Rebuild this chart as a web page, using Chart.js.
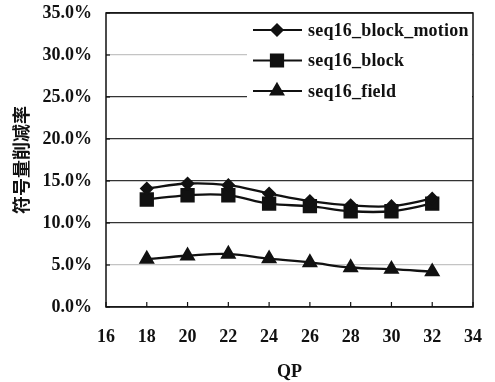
<!DOCTYPE html>
<html>
<head>
<meta charset="utf-8">
<script src="https://cdn.jsdelivr.net/npm/chart.js@4/dist/chart.umd.min.js"></script>
<style>
  html, body { margin: 0; padding: 0; background: #fff; }
  #wrap { width: 495px; height: 382px; position: relative; }
</style>
</head>
<body>
<div id="wrap"><canvas id="qpChart"></canvas></div>
<script>
// Datos
const qpValues = [18, 20, 22, 24, 26, 28, 30, 32];
const blockMotion = [14.1, 14.7, 14.5, 13.5, 12.6, 12.1, 12.0, 12.9];
const blockOnly = [12.8, 13.3, 13.3, 12.3, 12.0, 11.4, 11.4, 12.3];
const fieldOnly = [5.7, 6.1, 6.3, 5.75, 5.3, 4.7, 4.5, 4.2];
const seriesNames = ["seq16_block_motion", "seq16_block", "seq16_field"];

const serifFont = "'Liberation Serif', 'Times New Roman', serif";
const ink = "#111";

function toPoints(values) {
    return values.map((v, i) => ({ x: qpValues[i], y: v }));
}

// marco, marcas interiores y leyenda dentro del área
const framePlugin = {
    id: "frame",
    afterDatasetsDraw(chart) {
        const { ctx, chartArea: a, scales } = chart;
        ctx.save();
        ctx.strokeStyle = ink;
        ctx.lineWidth = 1.5;
        ctx.strokeRect(a.left, a.top, a.right - a.left, a.bottom - a.top);
        ctx.lineWidth = 1.2;
        scales.x.ticks.forEach(t => {
            const px = scales.x.getPixelForValue(t.value);
            ctx.beginPath();
            ctx.moveTo(px, a.bottom);
            ctx.lineTo(px, a.bottom - 5);
            ctx.stroke();
        });
        scales.y.ticks.forEach(t => {
            const py = scales.y.getPixelForValue(t.value);
            ctx.beginPath();
            ctx.moveTo(a.left, py);
            ctx.lineTo(a.left + 4, py);
            ctx.stroke();
        });
        ctx.restore();
    },
    afterDraw(chart) {
        const { ctx, chartArea: a } = chart;
        const boxLeft = a.right - 224;
        ctx.save();
        ctx.fillStyle = "#fff";
        ctx.fillRect(boxLeft - 2, a.top + 1, a.right - boxLeft + 1, 95);
        chart.data.datasets.forEach((ds, i) => {
            const y = a.top + 17 + i * 30.5;
            ctx.strokeStyle = ink;
            ctx.lineWidth = 2.2;
            ctx.beginPath();
            ctx.moveTo(boxLeft + 4, y);
            ctx.lineTo(boxLeft + 53, y);
            ctx.stroke();
            ctx.fillStyle = ink;
            Chart.helpers.drawPoint(ctx, {
                pointStyle: ds.pointStyle,
                radius: ds.pointRadius,
                rotation: 0,
                borderWidth: 1
            }, boxLeft + 28, y);
            ctx.fillStyle = ink;
            ctx.font = "bold 18px " + serifFont;
            ctx.letterSpacing = "0.2px";
            ctx.textBaseline = "middle";
            ctx.textAlign = "left";
            ctx.fillText(ds.label, boxLeft + 59, y + 1);
        });
        ctx.restore();
    }
};

function makeDataset(label, values, style, radius) {
    return {
        label: label,
        data: toPoints(values),
        borderColor: ink,
        backgroundColor: ink,
        borderWidth: 2.3,
        pointStyle: style,
        pointRadius: radius,
        pointBackgroundColor: ink,
        pointBorderColor: ink,
        tension: 0.4,
        fill: false
    };
}

new Chart(document.getElementById("qpChart"), {
    type: "line",
    data: {
        datasets: [
            makeDataset(seriesNames[0], blockMotion, "rectRot", 5.5),
            makeDataset(seriesNames[1], blockOnly, "rect", 8.5),
            makeDataset(seriesNames[2], fieldOnly, "triangle", 7)
        ]
    },
    options: {
        responsive: true,
        maintainAspectRatio: false,
        animation: false,
        layout: { padding: { left: 0, top: 13, right: 22, bottom: 0 } },
        plugins: {
            legend: { display: false },
            tooltip: { enabled: false }
        },
        scales: {
            x: {
                type: "linear",
                min: 16,
                max: 34,
                afterFit(scale) {
                    scale.height = 75;
                    scale.paddingLeft = 0;
                    scale.paddingRight = 0;
                },
                grid: { display: false, drawTicks: false },
                border: { display: false },
                ticks: {
                    stepSize: 2,
                    padding: 20,
                    color: ink,
                    font: { family: serifFont, size: 18, weight: "bold" }
                },
                title: {
                    display: true,
                    text: "QP",
                    color: ink,
                    padding: { top: 0, bottom: 1 },
                    font: { family: serifFont, size: 18, weight: "bold", lineHeight: 1 }
                }
            },
            y: {
                min: 0,
                max: 35,
                afterFit(scale) {
                    scale.width = 106;
                    scale.paddingTop = 0;
                    scale.paddingBottom = 0;
                },
                grid: {
                    drawTicks: false,
                    lineWidth: 1.2,
                    color: ctx => {
                        const v = ctx.tick ? ctx.tick.value : 0;
                        if (v === 5 || v === 30) return "#c4c4c4";
                        return "#333";
                    }
                },
                border: { display: false },
                ticks: {
                    stepSize: 5,
                    padding: 14,
                    color: ink,
                    font: { family: serifFont, size: 18, weight: "bold" },
                    callback: v => v.toFixed(1) + "%"
                },
                title: {
                    display: true,
                    text: "符号量削减率",
                    color: ink,
                    padding: { top: 10, bottom: 0 },
                    font: { family: "'Noto Sans CJK SC', sans-serif", size: 18, weight: "bold" }
                }
            }
        }
    },
    plugins: [framePlugin]
});
</script>
</body>
</html>
